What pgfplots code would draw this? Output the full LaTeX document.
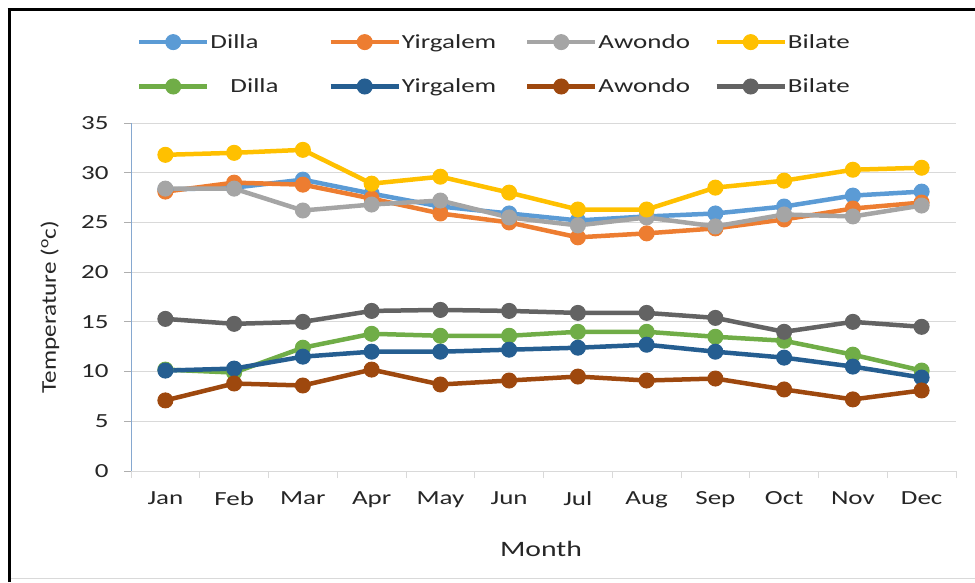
\documentclass[border=0pt]{standalone}
\usepackage{fontspec}
\setmainfont{Carlito}[FakeStretch=1.35]
\newfontfamily\ylabfont{Carlito}[FakeStretch=1.2]
\usepackage{pgfplots}
\pgfplotsset{compat=1.18}
\definecolor{sDilla}{HTML}{5B9BD5}
\definecolor{sYirg}{HTML}{ED7D31}
\definecolor{sAwon}{HTML}{A5A5A5}
\definecolor{sBila}{HTML}{FFC000}
\definecolor{tDilla}{HTML}{70AD47}
\definecolor{tYirg}{HTML}{255E91}
\definecolor{tAwon}{HTML}{9E480E}
\definecolor{tBila}{HTML}{636363}
\definecolor{gridc}{HTML}{D9D9D9}
\definecolor{yaxc}{HTML}{86A8D0}

\begin{document}
\begin{tikzpicture}
\useasboundingbox (0pt,0pt) rectangle (975pt,582pt);
% frame
\draw[gridc, line width=1pt] (9pt,4pt) -- (975pt,4pt);
\draw[black, line width=3pt] (9pt,0pt) -- (9pt,574pt);
\draw[black, line width=3pt] (7.5pt,572.5pt) -- (975pt,572.5pt);
\begin{axis}[
    at={(131pt,111pt)}, anchor=south west,
    scale only axis, width=825pt, height=348pt,
    xmin=-0.5, xmax=11.5, ymin=0, ymax=35,
    xtick={-0.5,0.5,...,11.5},
    xticklabels={Jan,Feb,Mar,Apr,May,Jun,Jul,Aug,Sep,Oct,Nov,Dec},
    x tick label as interval,
    ytick={0,5,...,35},
    axis x line*=bottom, axis y line*=left,
    x axis line style={draw=gridc, line width=1pt, -},
    y axis line style={draw=yaxc, line width=1pt, -},
    tick align=outside, major tick length=7pt,
    xtick style={draw=gridc, line width=1pt},
    ytick style={draw=gridc!80!black, line width=1pt},
    ymajorgrids, grid style={draw=gridc, line width=1pt},
    tick label style={font=\fontsize{20}{24}\selectfont, text=black!85},
    /pgf/number format/assume math mode=true,
    xticklabel style={yshift=-10pt},
    yticklabel style={xshift=-12pt},
    xlabel={Month},
    xlabel style={font=\fontsize{22}{26}\selectfont, text=black!85, at={(axis description cs:0.497,-0.224)}, anchor=center},
    ylabel={\ylabfont\fontsize{21}{25}\selectfont Temperature (\textsuperscript{o}c)},
    ylabel style={text=black!85, at={(axis description cs:-0.0982,0.471)}, anchor=center, rotate=0},
    every axis plot/.append style={line width=4.5pt, mark=*, mark size=7.5pt, mark options={line width=1pt}},
    legend columns=4,
    legend cell align=left,
    legend image code/.code={\draw[mark repeat=2,mark phase=2,#1] plot coordinates {(0pt,0pt)(34pt,0pt)(68pt,0pt)};},
    legend style={draw=none, fill=none, inner sep=0pt, at={(axis description cs:0.007,1.258)}, anchor=north west,
        font=\fontsize{20}{24}\selectfont, text=black!85, row sep=27pt,
        /tikz/every odd column/.style={column sep=0pt},
        nodes={inner sep=1pt}},
]
% upper set
\addplot[color=sDilla] coordinates {(0,28.3) (1,28.5) (2,29.3) (3,27.9) (4,26.6) (5,25.9) (6,25.2) (7,25.6) (8,25.9) (9,26.6) (10,27.7) (11,28.1)};
\addlegendentry{\makebox[117pt][l]{Dilla}}
\addplot[color=sYirg] coordinates {(0,28.1) (1,29.0) (2,28.8) (3,27.4) (4,25.9) (5,25.0) (6,23.5) (7,23.9) (8,24.4) (9,25.3) (10,26.4) (11,27.0)};
\addlegendentry{\makebox[122pt][l]{Yirgalem}}
\addplot[color=sAwon] coordinates {(0,28.4) (1,28.4) (2,26.2) (3,26.8) (4,27.2) (5,25.5) (6,24.7) (7,25.5) (8,24.6) (9,25.8) (10,25.6) (11,26.7)};
\addlegendentry{\makebox[115pt][l]{Awondo}}
\addplot[color=sBila] coordinates {(0,31.8) (1,32.0) (2,32.3) (3,28.9) (4,29.6) (5,28.0) (6,26.3) (7,26.3) (8,28.5) (9,29.2) (10,30.3) (11,30.5)};
\addlegendentry{\makebox[117pt][l]{Bilate}}
% lower set
\addplot[color=tDilla] coordinates {(0,10.2) (1,9.9) (2,12.4) (3,13.8) (4,13.6) (5,13.6) (6,14.0) (7,14.0) (8,13.5) (9,13.1) (10,11.7) (11,10.1)};
\addlegendentry{\makebox[117pt][l]{\hspace*{20pt}Dilla}}
\addplot[color=tYirg] coordinates {(0,10.1) (1,10.3) (2,11.5) (3,12.0) (4,12.0) (5,12.2) (6,12.4) (7,12.7) (8,12.0) (9,11.4) (10,10.5) (11,9.4)};
\addlegendentry{\makebox[122pt][l]{Yirgalem}}
\addplot[color=tAwon] coordinates {(0,7.1) (1,8.8) (2,8.6) (3,10.2) (4,8.7) (5,9.1) (6,9.5) (7,9.1) (8,9.3) (9,8.2) (10,7.2) (11,8.1)};
\addlegendentry{\makebox[115pt][l]{Awondo}}
\addplot[color=tBila] coordinates {(0,15.3) (1,14.8) (2,15.0) (3,16.1) (4,16.2) (5,16.1) (6,15.9) (7,15.9) (8,15.4) (9,14.0) (10,15.0) (11,14.5)};
\addlegendentry{\makebox[117pt][l]{Bilate}}
\end{axis}
\end{tikzpicture}
\end{document}
